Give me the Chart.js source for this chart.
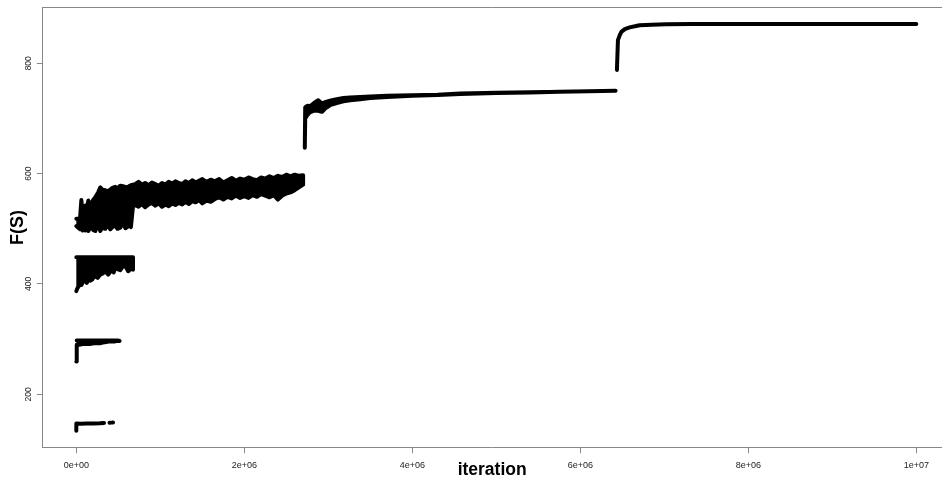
<!DOCTYPE html>
<html>
<head>
<meta charset="utf-8">
<script src="https://cdn.jsdelivr.net/npm/chart.js@4.4.1/dist/chart.umd.min.js"></script>
<style>
  html, body { margin: 0; padding: 0; background: #fff; overflow: hidden; }
  #wrap { width: 942px; height: 484px; }
</style>
</head>
<body>
<div id="wrap"><canvas id="chart" width="942" height="484"></canvas></div>
<script>
// axis ticks
const xTicks = [0, 2e6, 4e6, 6e6, 8e6, 1e7];
const xTickLabels = ['0e+00', '2e+06', '4e+06', '6e+06', '8e+06', '1e+07'];
const yTicks = [200, 400, 600, 800];
const yTickLabels = ['200', '400', '600', '800'];

// iterations are in millions, F(S)
// run 1: single trace, null = gaps in the dotted tail
const run1Iter = [0, 0, 0.05, 0.12, 0.2, 0.28, 0.33, 0.36, 0.395, 0.405, 0.42, 0.43, 0.437];
const run1F = [134, 147, 146.5, 147, 147, 147.5, 148, null, 148.5, 148.5, null, 149, 149];

// runs 2-5 oscillate, kept as lower / upper envelope of the trace
const run2Iter = [0, 0.005, 0.045, 0.09, 0.16, 0.22, 0.28, 0.34, 0.40, 0.45, 0.49, 0.515];
const run2Low = [259.5, 290, 290, 291.5, 291, 293, 292.5, 294.5, 296, 295.5, 297, 296.5];
const run2High = [297.5, 297.5, 297.5, 297.5, 297.5, 297.5, 297.5, 297.5, 297.5, 297.5, 297.5, 296.5];

const run3Iter = [0, 0.012, 0.03, 0.045, 0.06, 0.08, 0.107, 0.125, 0.143, 0.165, 0.19, 0.21, 0.226, 0.255, 0.285,
                  0.315, 0.345, 0.38, 0.405, 0.428, 0.445, 0.464, 0.49, 0.523, 0.55, 0.583, 0.60, 0.618, 0.645, 0.675];
const run3Low = [387, 392, 396, 404, 398, 404, 406, 402, 411, 406, 408, 413, 414, 411, 417,
                 419, 423, 417, 422, 426, 421, 431, 427, 425, 431, 432, 428, 423, 427, 426];
const run3High = [448.5, 448.5, 448.5, 448.5, 448.5, 448.5, 448.5, 448.5, 448.5, 448.5, 448.5, 448.5, 448.5, 448.5, 448.5,
                  448.5, 448.5, 448.5, 448.5, 448.5, 448.5, 448.5, 448.5, 448.5, 448.5, 448.5, 448.5, 448.5, 448.5, 448.5];

const run4Iter = [0, 0.03, 0.045, 0.06, 0.075, 0.09, 0.107, 0.125, 0.143, 0.16, 0.18, 0.2, 0.226, 0.245, 0.26,
                  0.285, 0.31, 0.345, 0.37, 0.404, 0.43, 0.464, 0.49, 0.523, 0.555, 0.585, 0.605, 0.625, 0.65, 0.675,
                  0.70, 0.74, 0.78, 0.82, 0.86, 0.90, 0.94, 0.98, 1.02, 1.06, 1.10, 1.14, 1.18, 1.22, 1.26,
                  1.30, 1.34, 1.38, 1.42, 1.46, 1.50, 1.55, 1.60, 1.65, 1.70, 1.75, 1.80, 1.85, 1.90, 1.95,
                  2.00, 2.05, 2.10, 2.15, 2.20, 2.25, 2.30, 2.35, 2.40, 2.45, 2.50, 2.55, 2.60, 2.65, 2.70];
const run4Low = [505, 501, 499, 500, 497, 499, 497, 502, 496, 500, 506, 498, 496, 504, 510,
                 496, 502, 500, 508, 499, 503, 506, 500, 502, 511, 501, 503, 514, 503, 541,
                 543, 540, 545, 539, 544, 547, 542, 546, 540, 544, 541, 546, 543, 547, 544,
                 549, 545, 550, 548, 552, 546, 551, 549, 554, 557, 553, 558, 555, 560, 556,
                 559, 556, 561, 558, 563, 560, 557, 561, 553, 560, 564, 566, 570, 575, 580];
const run4High = [518, 518, 520, 552, 528, 540, 542, 536, 551, 544, 546, 552, 557, 562, 566,
                  575, 571, 570, 568, 571, 574, 576, 573, 578, 577, 576, 575, 577, 579, 580,
                  581, 585, 580, 583, 579, 584, 581, 578, 583, 580, 585, 582, 586, 583, 581,
                  586, 583, 588, 584, 587, 590, 585, 589, 586, 590, 584, 588, 592, 587, 591,
                  589, 593, 590, 588, 593, 591, 595, 592, 596, 594, 598, 595, 598, 596, 597];

const run5Iter = [2.72, 2.725, 2.75, 2.78, 2.83, 2.88, 2.925, 2.97, 3.02, 3.1, 3.18, 3.26, 3.38, 3.5, 3.7,
                  4.0, 4.3, 4.57, 5.0, 5.4, 5.75, 6.1, 6.42];
const run5Low = [647, 700, 706, 711, 714, 714, 712, 719, 724, 728, 731, 733, 735, 737, 739,
                 741, 742.5, 744.5, 746, 747, 748.5, 749.5, 750];
const run5High = [647, 720, 723, 722, 728, 733, 727, 730, 732, 735, 737, 738, 739, 740, 741,
                  742, 743, 745, 746.5, 747.5, 748.5, 749.5, 750];

// run 6: smooth trace
const run6Iter = [6.436, 6.448, 6.47, 6.489, 6.53, 6.587, 6.65, 6.706, 6.85, 7.024, 7.337, 8.0, 9.0, 10.0];
const run6F = [788, 842, 851, 857, 862, 865, 867, 869, 870, 870.6, 871, 871, 871.2, 871.3];

function pts(iter, vals) {
    return iter.map((it, i) => ({ x: it * 1e6, y: vals[i] }));
}

// outline of an oscillating run: along the lower envelope, back along the upper one
function band(iter, low, high) {
    return pts(iter, low).concat(pts(iter, high).reverse());
}

function trace(data, extra) {
    return Object.assign({
        data: data,
        borderColor: '#000',
        backgroundColor: '#000',
        borderWidth: 4,
        borderJoinStyle: 'round',
        borderCapStyle: 'round',
        pointRadius: 0,
        tension: 0,
        fill: false,
        spanGaps: false
    }, extra || {});
}

const frame = {
    id: 'frame',
    afterDraw(chart) {
        const ctx = chart.ctx;
        const a = chart.chartArea;
        ctx.save();
        ctx.strokeStyle = '#888';
        ctx.lineWidth = 1;
        ctx.beginPath();
        ctx.moveTo(a.left, a.top);
        ctx.lineTo(a.right + 2, a.top);
        ctx.stroke();
        ctx.restore();
    }
};

new Chart(document.getElementById('chart'), {
    type: 'line',
    data: {
        datasets: [
            trace(pts(run1Iter, run1F)),
            trace(band(run2Iter, run2Low, run2High), { fill: 'shape' }),
            trace(band(run3Iter, run3Low, run3High), { fill: 'shape' }),
            trace(band(run4Iter, run4Low, run4High), { fill: 'shape' }),
            trace(band(run5Iter, run5Low, run5High), { fill: 'shape' }),
            trace(pts(run6Iter, run6F))
        ]
    },
    options: {
        responsive: false,
        animation: false,
        layout: { padding: { top: 7.5, right: 0, bottom: 0, left: 0 } },
        plugins: {
            legend: { display: false },
            tooltip: { enabled: false }
        },
        scales: {
            x: {
                type: 'linear',
                min: -0.405e6,
                max: 10.306e6,
                afterBuildTicks: s => { s.ticks = xTicks.map(v => ({ value: v })); },
                afterFit: s => { s.height = 36.3; },
                ticks: {
                    callback: (v, i) => xTickLabels[i],
                    font: { family: 'Liberation Sans', size: 9 },
                    color: '#222',
                    padding: 7,
                    autoSkip: false,
                    minRotation: 0,
                    maxRotation: 0
                },
                grid: { drawOnChartArea: false, drawTicks: true, tickLength: 5.5, color: '#888' },
                border: { display: true, color: '#888', width: 1 },
                title: {
                    display: true,
                    text: 'iteration',
                    color: '#000',
                    font: { family: 'Liberation Sans', size: 17.5, weight: 'bold' },
                    padding: { top: 0, bottom: 3 }
                }
            },
            y: {
                type: 'linear',
                min: 103.2,
                max: 901.1,
                afterBuildTicks: s => { s.ticks = yTicks.map(v => ({ value: v })); },
                afterFit: s => { s.width = 42.3; },
                ticks: {
                    callback: (v, i) => yTickLabels[i],
                    font: { family: 'Liberation Sans', size: 8.5 },
                    color: '#222',
                    padding: 1,
                    autoSkip: false,
                    minRotation: 90,
                    maxRotation: 90,
                    crossAlign: 'center'
                },
                grid: { drawOnChartArea: false, drawTicks: true, tickLength: 5.5, color: '#888' },
                border: { display: true, color: '#888', width: 1 },
                title: {
                    display: true,
                    text: 'F(S)',
                    color: '#000',
                    font: { family: 'Liberation Sans', size: 18, weight: 'bold' },
                    padding: { top: 6.8, bottom: 0 }
                }
            }
        }
    },
    plugins: [frame]
});
</script>
</body>
</html>
